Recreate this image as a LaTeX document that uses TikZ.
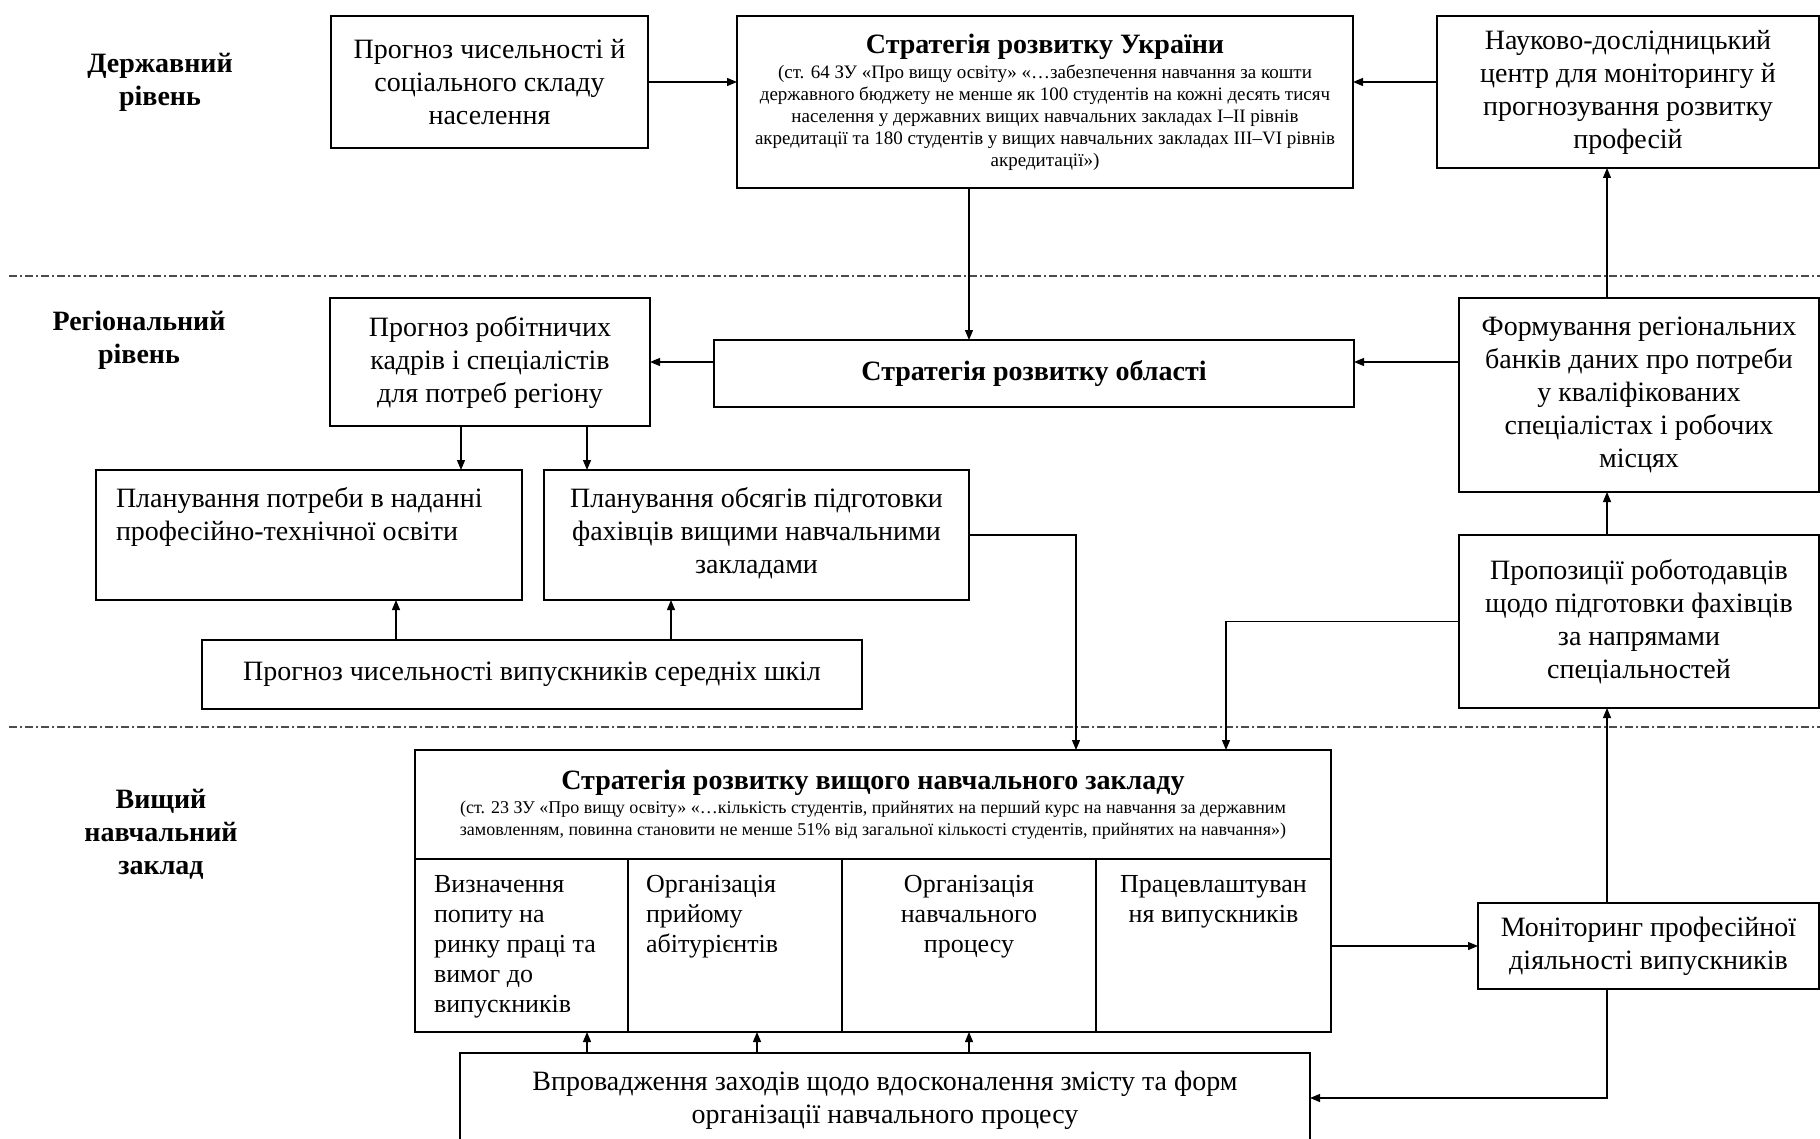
\documentclass[tikz,border=0pt]{standalone}
\usepackage{fontspec}
\setmainfont{Liberation Serif}
\usetikzlibrary{arrows.meta}
\begin{document}
\begin{tikzpicture}[x=0.5pt,y=-0.5pt,
  box/.style={draw, line width=0.9pt, inner sep=0pt, outer sep=0pt, anchor=north west, align=center, font=\fontsize{14}{16.5}\selectfont},
  arr/.style={-{Triangle[length=5pt,width=4pt]}, line width=0.6pt},
  lvl/.style={font=\bfseries\fontsize{14}{16.5}\selectfont, align=center},
  sep/.style={line width=0.6pt, black!70, dash pattern=on 4pt off 1.5pt on 1pt off 1.5pt}]
\clip (0,0) rectangle (1820,1139);
\useasboundingbox (0,0) rectangle (1820,1139);

% level labels
\node[lvl] (l1) at (160,82) {Державний\\рівень};
\node[lvl] (l2) at (139,340) {Регіональний\\рівень};
\node[lvl] (l3) at (161,834) {Вищий\\навчальний\\заклад};

% separators
\draw[sep] (9,276) -- (1820,276);
\draw[sep] (9,727) -- (1820,727);

% state level
\node[box, minimum width=158.5pt, minimum height=66pt] (A) at (331,16) {Прогноз чисельності й\\соціального складу\\населення};
\node[box, minimum width=308pt, minimum height=86pt] (B) at (737,16) {\begin{minipage}{304pt}\centering
{\bfseries Стратегія розвитку України\par}\vspace{1.5pt}
\fontsize{9.5}{11}\selectfont (ст. 64 ЗУ «Про вищу освіту» «…забезпечення навчання за кошти\\
державного бюджету не менше як 100 студентів на кожні  десять тисяч\\
населення у державних вищих навчальних закладах І–ІІ рівнів\\
акредитації та 180 студентів у вищих навчальних закладах ІІІ–VІ рівнів\\
акредитації»)\par\end{minipage}};
\node[box, minimum width=191pt, minimum height=76pt] (C) at (1437,16) {Науково-дослідницький\\центр для моніторингу й\\прогнозування розвитку\\професій};

% regional level
\node[box, minimum width=320pt, minimum height=33.5pt] (D) at (714,340) {\bfseries Стратегія розвитку області};
\node[box, minimum width=160pt, minimum height=64pt] (E) at (330,298) {Прогноз робітничих\\кадрів і спеціалістів\\для потреб регіону};
\node[box, minimum width=180pt, minimum height=97pt] (F) at (1459,298) {Формування регіональних\\банків даних про потреби\\у кваліфікованих\\спеціалістах і робочих\\місцях};
\node[box, minimum width=213pt, minimum height=65pt] (G) at (96,470) {\begin{minipage}[c][65pt][t]{193pt}\vspace*{8.5pt}\raggedright
Планування потреби в наданні\\професійно-технічної освіти\par\end{minipage}};
\node[box, minimum width=212.5pt, minimum height=65pt] (H) at (544,470) {\begin{minipage}[c][65pt][t]{205pt}\vspace*{8.5pt}\centering
Планування обсягів підготовки\\фахівців вищими навчальними\\закладами\par\end{minipage}};
\node[box, minimum width=330pt, minimum height=34.5pt] (I) at (202,640) {Прогноз чисельності випускників середніх шкіл};
\node[box, minimum width=180pt, minimum height=86.5pt] (J) at (1459,535) {Пропозиції роботодавців\\щодо підготовки фахівців\\за напрямами\\спеціальностей};

% HEI level
\node[box, minimum width=458pt, minimum height=54.5pt] (Kh) at (415,750) {\begin{minipage}{454pt}\centering
{\bfseries Стратегія розвитку вищого навчального закладу\par}\vspace{1pt}
\fontsize{9}{11}\selectfont (ст. 23 ЗУ «Про вищу освіту» «…кількість студентів, прийнятих на перший курс на навчання за державним\\
замовленням, повинна становити не менше 51\% від загальної кількості студентів, прийнятих на навчання»)\par\end{minipage}};
\node[box, minimum width=106.5pt, minimum height=86.5pt] (K1) at (415,859) {\begin{minipage}[c][86.5pt][t]{87.5pt}\fontsize{13}{15}\selectfont\vspace*{8pt}\raggedright
Визначення\\попиту на\\ринку праці та\\вимог до\\випускників\par\end{minipage}};
\node[box, minimum width=107pt, minimum height=86.5pt] (K2) at (628,859) {\begin{minipage}[c][86.5pt][t]{89pt}\fontsize{13}{15}\selectfont\vspace*{8pt}\raggedright
Організація\\прийому\\абітурієнтів\par\end{minipage}};
\node[box, minimum width=127pt, minimum height=86.5pt] (K3) at (842,859) {\begin{minipage}[c][86.5pt][t]{120pt}\fontsize{13}{15}\selectfont\vspace*{8pt}\centering
Організація\\навчального\\процесу\par\end{minipage}};
\node[box, minimum width=117.5pt, minimum height=86.5pt] (K4) at (1096,859) {\begin{minipage}[c][86.5pt][t]{112pt}\fontsize{13}{15}\selectfont\vspace*{8pt}\centering
Працевлаштуван\\ня випускників\par\end{minipage}};
\node[box, minimum width=170.5pt, minimum height=43pt] (L) at (1478,903) {Моніторинг професійної\\діяльності випускників};
\node[box, minimum width=425pt, minimum height=60pt] (M) at (460,1053) {\begin{minipage}[c][60pt][t]{415pt}\vspace*{9pt}\centering
Впровадження заходів щодо вдосконалення змісту та форм\\організації навчального процесу\par\end{minipage}};

% helper x / y positions
\coordinate (xB) at (969,0);
\coordinate (xR) at (1607,0);
\coordinate (x1) at (461,0);
\coordinate (x2) at (587,0);
\coordinate (x3) at (396,0);
\coordinate (x4) at (671,0);
\coordinate (x5) at (1076,0);
\coordinate (x6) at (1226,0);
\coordinate (x7) at (757,0);
\coordinate (yM) at (0,1098);

% connectors
\draw[arr] (A.east) -- (B.west |- A.east);
\draw[arr] (C.west |- A.east) -- (B.east |- A.east);
\draw[arr] (B.south -| xB) -- (D.north -| xB);
\draw[arr] (D.west |- E.east) -- (E.east);
\draw[arr] (F.west |- E.east) -- (D.east |- E.east);
\draw[arr] (F.north -| xR) -- (C.south -| xR);
\draw[arr] (J.north -| xR) -- (F.south -| xR);
\draw[arr] (L.north -| xR) -- (J.south -| xR);
\draw[arr] (L.south -| xR) -- (xR |- yM) -- (M.east |- yM);
\draw[arr] (E.south -| x1) -- (G.north -| x1);
\draw[arr] (E.south -| x2) -- (H.north -| x2);
\draw[arr] (I.north -| x3) -- (G.south -| x3);
\draw[arr] (I.north -| x4) -- (H.south -| x4);
\draw[arr] (H.east) -- (H.east -| x5) -- (Kh.north -| x5);
\draw[arr] (J.west) -- (J.west -| x6) -- (Kh.north -| x6);
\draw[arr] (K4.east |- L.west) -- (L.west);
\draw[arr] (M.north -| x2) -- (K1.south -| x2);
\draw[arr] (M.north -| x7) -- (K2.south -| x7);
\draw[arr] (M.north -| xB) -- (K3.south -| xB);
\end{tikzpicture}
\end{document}
